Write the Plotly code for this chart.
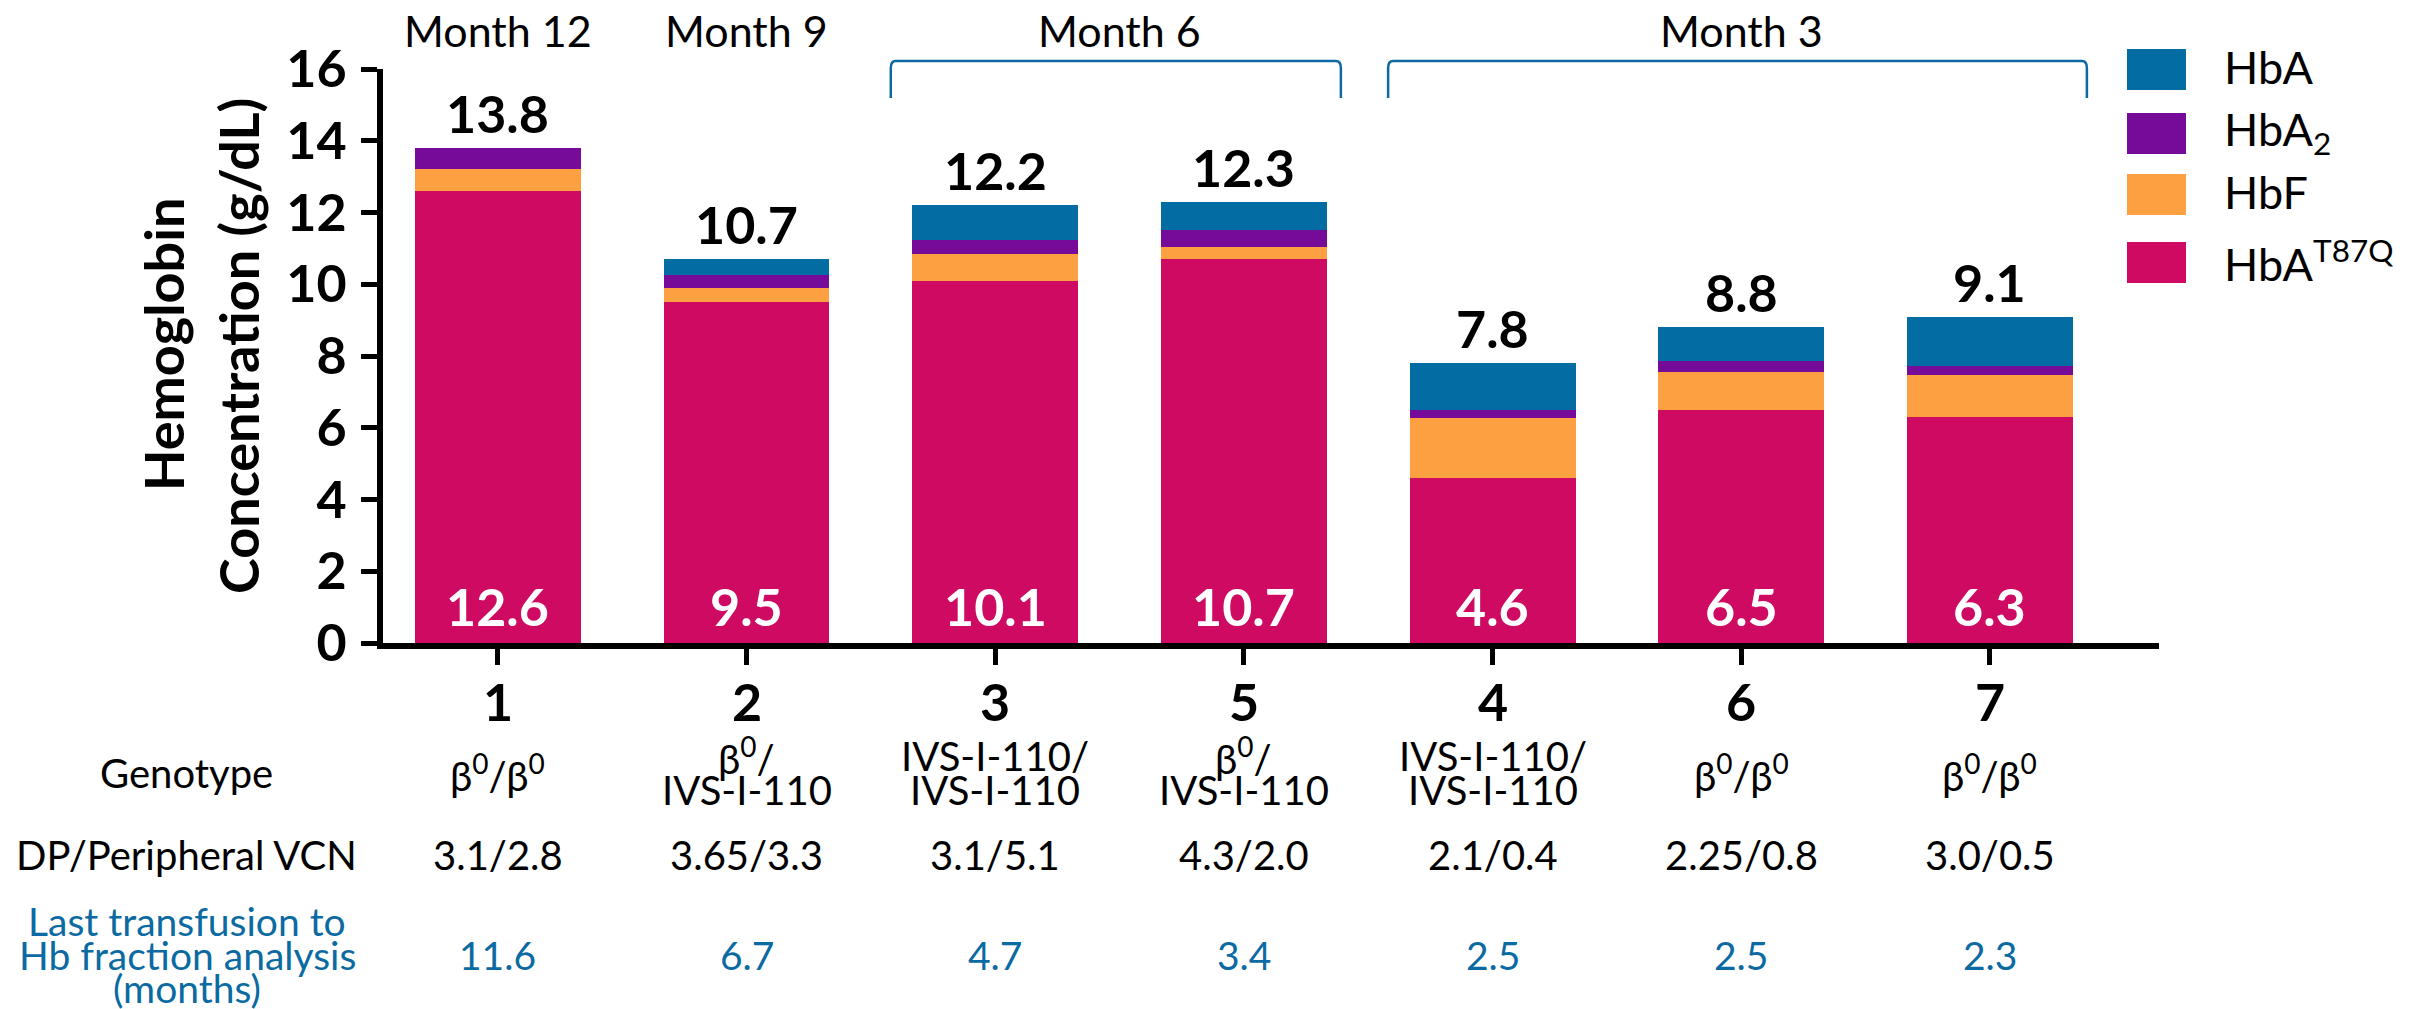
import plotly.graph_objects as go

# ---------------- data ----------------
patients = ["1", "2", "3", "5", "4", "6", "7"]
hba_t87q = [12.6, 9.5, 10.1, 10.7, 4.6, 6.5, 6.3]
hbf = [0.6, 0.4, 0.75, 0.35, 1.67, 1.05, 1.17]
hba2 = [0.6, 0.35, 0.37, 0.45, 0.23, 0.3, 0.25]
hba = [0.0, 0.45, 0.98, 0.8, 1.3, 0.95, 1.38]
totals = [13.8, 10.7, 12.2, 12.3, 7.8, 8.8, 9.1]

B0 = "β<sup>0</sup>"
genotype_lines = [
    [B0 + "/" + B0],
    [B0 + "/", "IVS-I-110"],
    ["IVS-I-110/", "IVS-I-110"],
    [B0 + "/", "IVS-I-110"],
    ["IVS-I-110/", "IVS-I-110"],
    [B0 + "/" + B0],
    [B0 + "/" + B0],
]
vcn = ["3.1/2.8", "3.65/3.3", "3.1/5.1", "4.3/2.0", "2.1/0.4", "2.25/0.8", "3.0/0.5"]
transfusion = ["11.6", "6.7", "4.7", "3.4", "2.5", "2.5", "2.3"]

# month groups: (label, first bar index, last bar index, bracket?)
month_groups = [("Month 12", 0, 0, False), ("Month 9", 1, 1, False),
                ("Month 6", 2, 3, True), ("Month 3", 4, 6, True)]

series_names = ["HbA<sup>T87Q</sup>", "HbF", "HbA<sub>2</sub>", "HbA"]
series_values = [hba_t87q, hbf, hba2, hba]
colors = ["#ce0a63", "#fda041", "#760a99", "#026ca3"]
legend_order = [3, 2, 1, 0]

y_ticks = [0, 2, 4, 6, 8, 10, 12, 14, 16]
row_labels = ["Genotype", "DP/Peripheral VCN"]
trans_label_lines = ["Last transfusion to", "Hb fraction analysis", "(months)"]

# ---------------- layout geometry ----------------
W, H = 2417, 1009
L, R, T, B = 383, 258, 69, 366
pw, ph = W - L - R, H - T - B
FONT = "Lato"
BLUE = "#0b6aa2"
OFF = 2  # vertical correction for middle-anchored annotations


def px(x):
    return (x - L) / pw


def py(y):
    return (H - B - y) / ph


def ann(**kw):
    d = dict(showarrow=False, xanchor="center", yanchor="middle")
    d.update(kw)
    return d


xs = list(range(len(patients)))

fig = go.Figure()
for name, vals, col in zip(series_names, series_values, colors):
    fig.add_trace(go.Bar(x=xs, y=vals, name=name, marker=dict(color=col, line=dict(width=0)),
                         width=0.667, showlegend=False))

annotations = []
shapes = []

# totals on top
for i, t in enumerate(totals):
    annotations.append(ann(x=i, y=t, xref="x", yref="y", text=f"{t:.1f}",
                           yanchor="bottom", yshift=2,
                           font=dict(family=FONT, size=52, color="black", weight="bold")))
# HbA T87Q values inside bars
for i, v in enumerate(hba_t87q):
    annotations.append(ann(x=i, y=0, xref="x", yref="y", text=f"{v:.1f}",
                           yanchor="bottom", yshift=4,
                           font=dict(family=FONT, size=52, color="white", weight="bold")))

# x tick labels (patient numbers)
for i, p in enumerate(patients):
    annotations.append(ann(x=i, y=py(701), xref="x", yref="paper", text=p,
                           font=dict(family=FONT, size=52, color="black", weight="bold")))

# month labels and brackets
for label, a, b, br in month_groups:
    annotations.append(ann(x=(a + b) / 2, y=py(30), xref="x", yref="paper", text=label,
                           font=dict(family=FONT, size=43, color="black")))
    if br:
        x0, x1 = a - 0.42, b + 0.39
        yt, yb = py(61), py(98)
        e = 0.012
        d = 0.02
        path = (f"M {x0},{yb} L {x0},{yt - e} Q {x0},{yt} {x0 + d},{yt} "
                f"L {x1 - d},{yt} Q {x1},{yt} {x1},{yt - e} L {x1},{yb}")
        shapes.append(dict(type="path", xref="x", yref="paper", path=path,
                           line=dict(color=BLUE, width=2.5)))

# y-axis title (two lines)
annotations.append(ann(x=px(163), y=py(345), xref="paper", yref="paper", text="Hemoglobin",
                       textangle=-90,
                       font=dict(family=FONT, size=54, color="black", weight="bold")))
annotations.append(ann(x=px(238), y=py(346), xref="paper", yref="paper",
                       text="Concentration (g/dL)", textangle=-90,
                       font=dict(family=FONT, size=54, color="black", weight="bold")))

# table rows
annotations.append(ann(x=px(186), y=py(775 - OFF), xref="paper", yref="paper", text=row_labels[0],
                       font=dict(family=FONT, size=40, color="black")))
annotations.append(ann(x=px(186), y=py(857 - OFF), xref="paper", yref="paper", text=row_labels[1],
                       font=dict(family=FONT, size=40, color="black")))
for k, line in enumerate(trans_label_lines):
    annotations.append(ann(x=px(187), y=py(923 + 33.5 * k - OFF), xref="paper", yref="paper",
                           text=line, font=dict(family=FONT, size=39, color=BLUE)))

for i in xs:
    lines = genotype_lines[i]
    ys = [775] if len(lines) == 1 else [758, 792]
    for line, yy in zip(lines, ys):
        annotations.append(ann(x=i, y=py(yy - OFF), xref="x", yref="paper", text=line,
                               font=dict(family=FONT, size=40, color="black")))
    annotations.append(ann(x=i, y=py(857 - OFF), xref="x", yref="paper", text=vcn[i],
                           font=dict(family=FONT, size=40, color="black")))
    annotations.append(ann(x=i, y=py(957 - OFF), xref="x", yref="paper", text=transfusion[i],
                           font=dict(family=FONT, size=39, color=BLUE)))

# custom legend
leg_y = [(49, 90), (113, 154), (174, 215), (242, 283)]
for (y0, y1), si in zip(leg_y, legend_order):
    shapes.append(dict(type="rect", xref="paper", yref="paper", x0=px(2127), x1=px(2186),
                       y0=py(y1), y1=py(y0), fillcolor=colors[si], line=dict(width=0)))
    annotations.append(ann(x=px(2222), y=py((y0 + y1) / 2 - OFF), xref="paper", yref="paper",
                           text=series_names[si], xanchor="left",
                           font=dict(family=FONT, size=45, color="black")))

fig.update_layout(
    barmode="stack",
    width=W, height=H, autosize=False,
    margin=dict(l=L, r=R, t=T, b=B, pad=0),
    plot_bgcolor="white", paper_bgcolor="white",
    showlegend=False,
    annotations=annotations, shapes=shapes,
    font=dict(family=FONT, color="black"),
    xaxis=dict(range=[-0.462, 6.68], tickvals=xs, ticktext=patients, showticklabels=False,
               showline=True, linecolor="black", linewidth=6, ticks="outside", ticklen=16,
               tickwidth=5, tickcolor="black", showgrid=False, zeroline=False),
    yaxis=dict(range=[0, 16], tickvals=y_ticks, showline=True, linecolor="black", linewidth=6,
               ticks="outside", ticklen=16, tickwidth=5, tickcolor="black", showgrid=False,
               zeroline=False, ticklabelstandoff=4,
               tickfont=dict(family=FONT, size=52, color="black", weight="bold")),
)

fig.write_html("out.html", config={"displayModeBar": False},
               post_script="document.body.style.margin='0';document.body.style.overflow='hidden';")
